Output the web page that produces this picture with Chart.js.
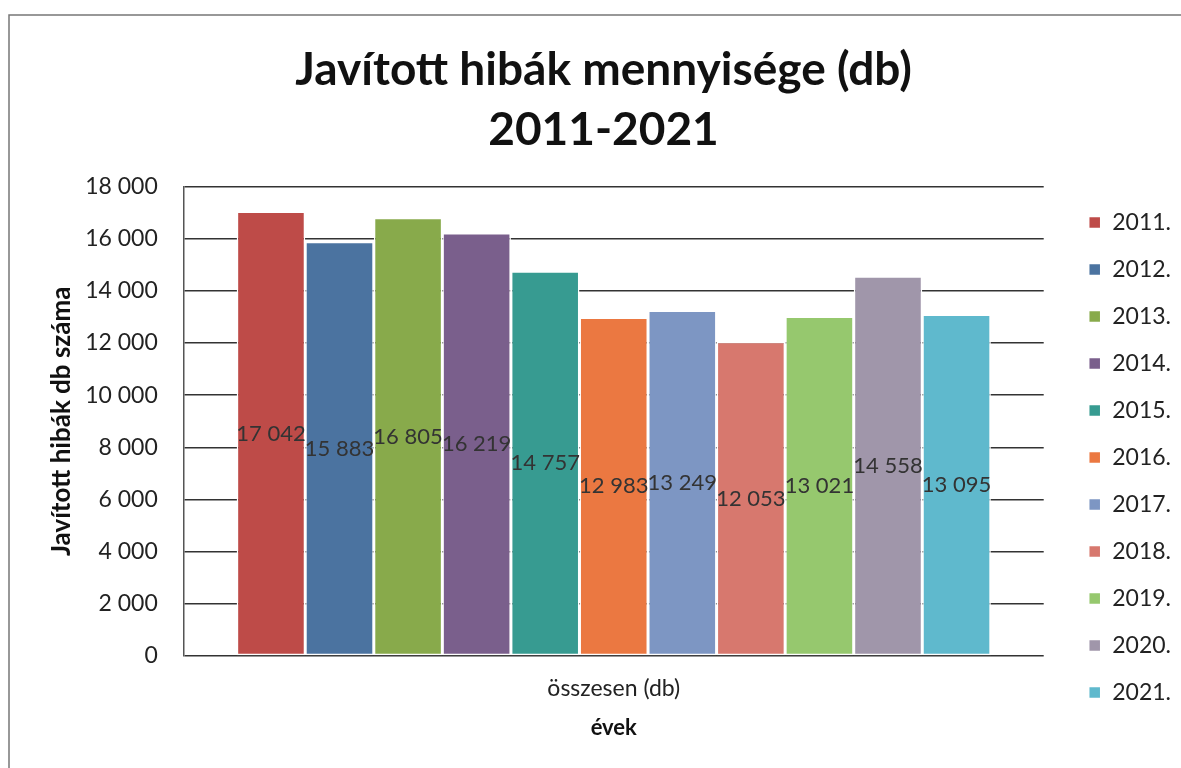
<!DOCTYPE html>
<html>
<head>
<meta charset="utf-8">
<script src="https://cdn.jsdelivr.net/npm/chart.js@4/dist/chart.umd.min.js"></script>
<style>
  html, body { margin: 0; padding: 0; background: #fff; }
  #wrap { width: 1181px; height: 768px; }
</style>
</head>
<body>
<div id="wrap"><canvas id="my-chart" width="1181" height="768"></canvas></div>
<script>
"use strict";

// data
const categories = ["összesen (db)"];
const years = ["2011.", "2012.", "2013.", "2014.", "2015.", "2016.", "2017.", "2018.", "2019.", "2020.", "2021."];
const values = [17042, 15883, 16805, 16219, 14757, 12983, 13249, 12053, 13021, 14558, 13095];
const colors = ["#be4b48", "#4b73a0", "#88aa4b", "#7a5f8c", "#379b91", "#eb7841",
                "#7d96c3", "#d7786e", "#96c86e", "#a096aa", "#5fb9cd"];
const yTicks = [0, 2000, 4000, 6000, 8000, 10000, 12000, 14000, 16000, 18000];

const FONT = "Lato, 'Open Sans', sans-serif";

// legend tweaks: extra gap between plot and legend, and push the list down
const LEGEND_GAP = 21;
const LEGEND_SHIFT = 85;

function fmt(n){
   return String(n).replace(/\B(?=(\d{3})+(?!\d))/g, " ");
}

// frame around the chart like the scanned page
const framePlugin = {
   id: "frame",
   beforeDraw(chart){
      const ctx = chart.ctx;
      ctx.save();
      ctx.fillStyle = "#fff";
      ctx.fillRect(0, 0, chart.width, chart.height);
      ctx.strokeStyle = "#777";
      ctx.lineWidth = 1.5;
      ctx.beginPath();
      ctx.moveTo(9, chart.height);
      ctx.lineTo(9, 15);
      ctx.lineTo(chart.width, 15);
      ctx.stroke();
      ctx.restore();
   }
};

// make the legend box wider so the plot ends earlier, then move it
const legendPlacePlugin = {
   id: "legendPlace",
   beforeLayout(chart){
      const lg = chart.legend;
      if(lg && !lg._patched){
         const origFit = lg.fit.bind(lg);
         lg.fit = function(){
            origFit();
            this.width += LEGEND_GAP;
         };
         lg._patched = true;
      }
   },
   afterLayout(chart){
      const lg = chart.legend;
      lg.left += LEGEND_GAP;
      lg.top += LEGEND_SHIFT;
      lg.bottom += LEGEND_SHIFT;
   }
};

// value labels in the middle of each bar
const labelPlugin = {
   id: "barLabels",
   afterDatasetsDraw(chart){
      const ctx = chart.ctx;
      ctx.save();
      ctx.font = "22px " + FONT;
      ctx.fillStyle = "#333";
      ctx.textAlign = "center";
      ctx.textBaseline = "middle";
      chart.data.datasets.forEach(function(ds, i){
         const meta = chart.getDatasetMeta(i);
         meta.data.forEach(function(bar, j){
            const y = (bar.y + bar.base) / 2;
            ctx.fillText(fmt(ds.data[j]), bar.x, y);
         });
      });
      ctx.restore();
   }
};

const datasets = [];
for(let i = 0; i < years.length; i++){
   datasets.push({
      label: years[i],
      data: [values[i]],
      backgroundColor: colors[i],
      borderColor: "#fff",
      borderWidth: 1.5,
      borderSkipped: false,
      categoryPercentage: 0.877,
      barPercentage: 1
   });
}

new Chart(document.getElementById("my-chart"), {
   type: "bar",
   data: { labels: categories, datasets: datasets },
   plugins: [framePlugin, legendPlacePlugin, labelPlugin],
   options: {
      responsive: false,
      animation: false,
      layout: { padding: { left: 26, right: 0, top: 0, bottom: 23 } },
      plugins: {
         title: {
            display: true,
            text: ["Javított hibák mennyisége (db)", "2011-2021"],
            color: "#111",
            font: { family: FONT, size: 46, weight: "bold", lineHeight: 1.3 },
            padding: { top: 40, bottom: 27 }
         },
         legend: {
            position: "right",
            labels: {
               boxWidth: 12,
               boxHeight: 12,
               padding: 24,
               color: "#222",
               font: { family: FONT, size: 23 }
            }
         },
         tooltip: { enabled: false }
      },
      scales: {
         x: {
            grid: { display: false, drawTicks: false },
            border: { display: false },
            ticks: { color: "#222", padding: 19, font: { family: FONT, size: 23 } },
            title: {
               display: true,
               text: "évek",
               color: "#111",
               font: { family: FONT, size: 22, weight: "bold" },
               padding: { top: -7, bottom: 4 }
            }
         },
         y: {
            min: 0,
            max: 18000,
            afterBuildTicks(axis){
               axis.ticks = yTicks.map(function(v){ return { value: v }; });
            },
            grid: { color: "#333", lineWidth: 1.5, drawTicks: false },
            border: { display: true, color: "#555", width: 1.5 },
            ticks: {
               color: "#222",
               padding: 26,
               font: { family: FONT, size: 23 },
               callback: function(v){ return fmt(v); }
            },
            title: {
               display: true,
               text: "Javított hibák db száma",
               color: "#111",
               font: { family: FONT, size: 26, weight: "bold" },
               padding: { top: 20, bottom: -18 }
            }
         }
      }
   }
});
</script>
</body>
</html>
